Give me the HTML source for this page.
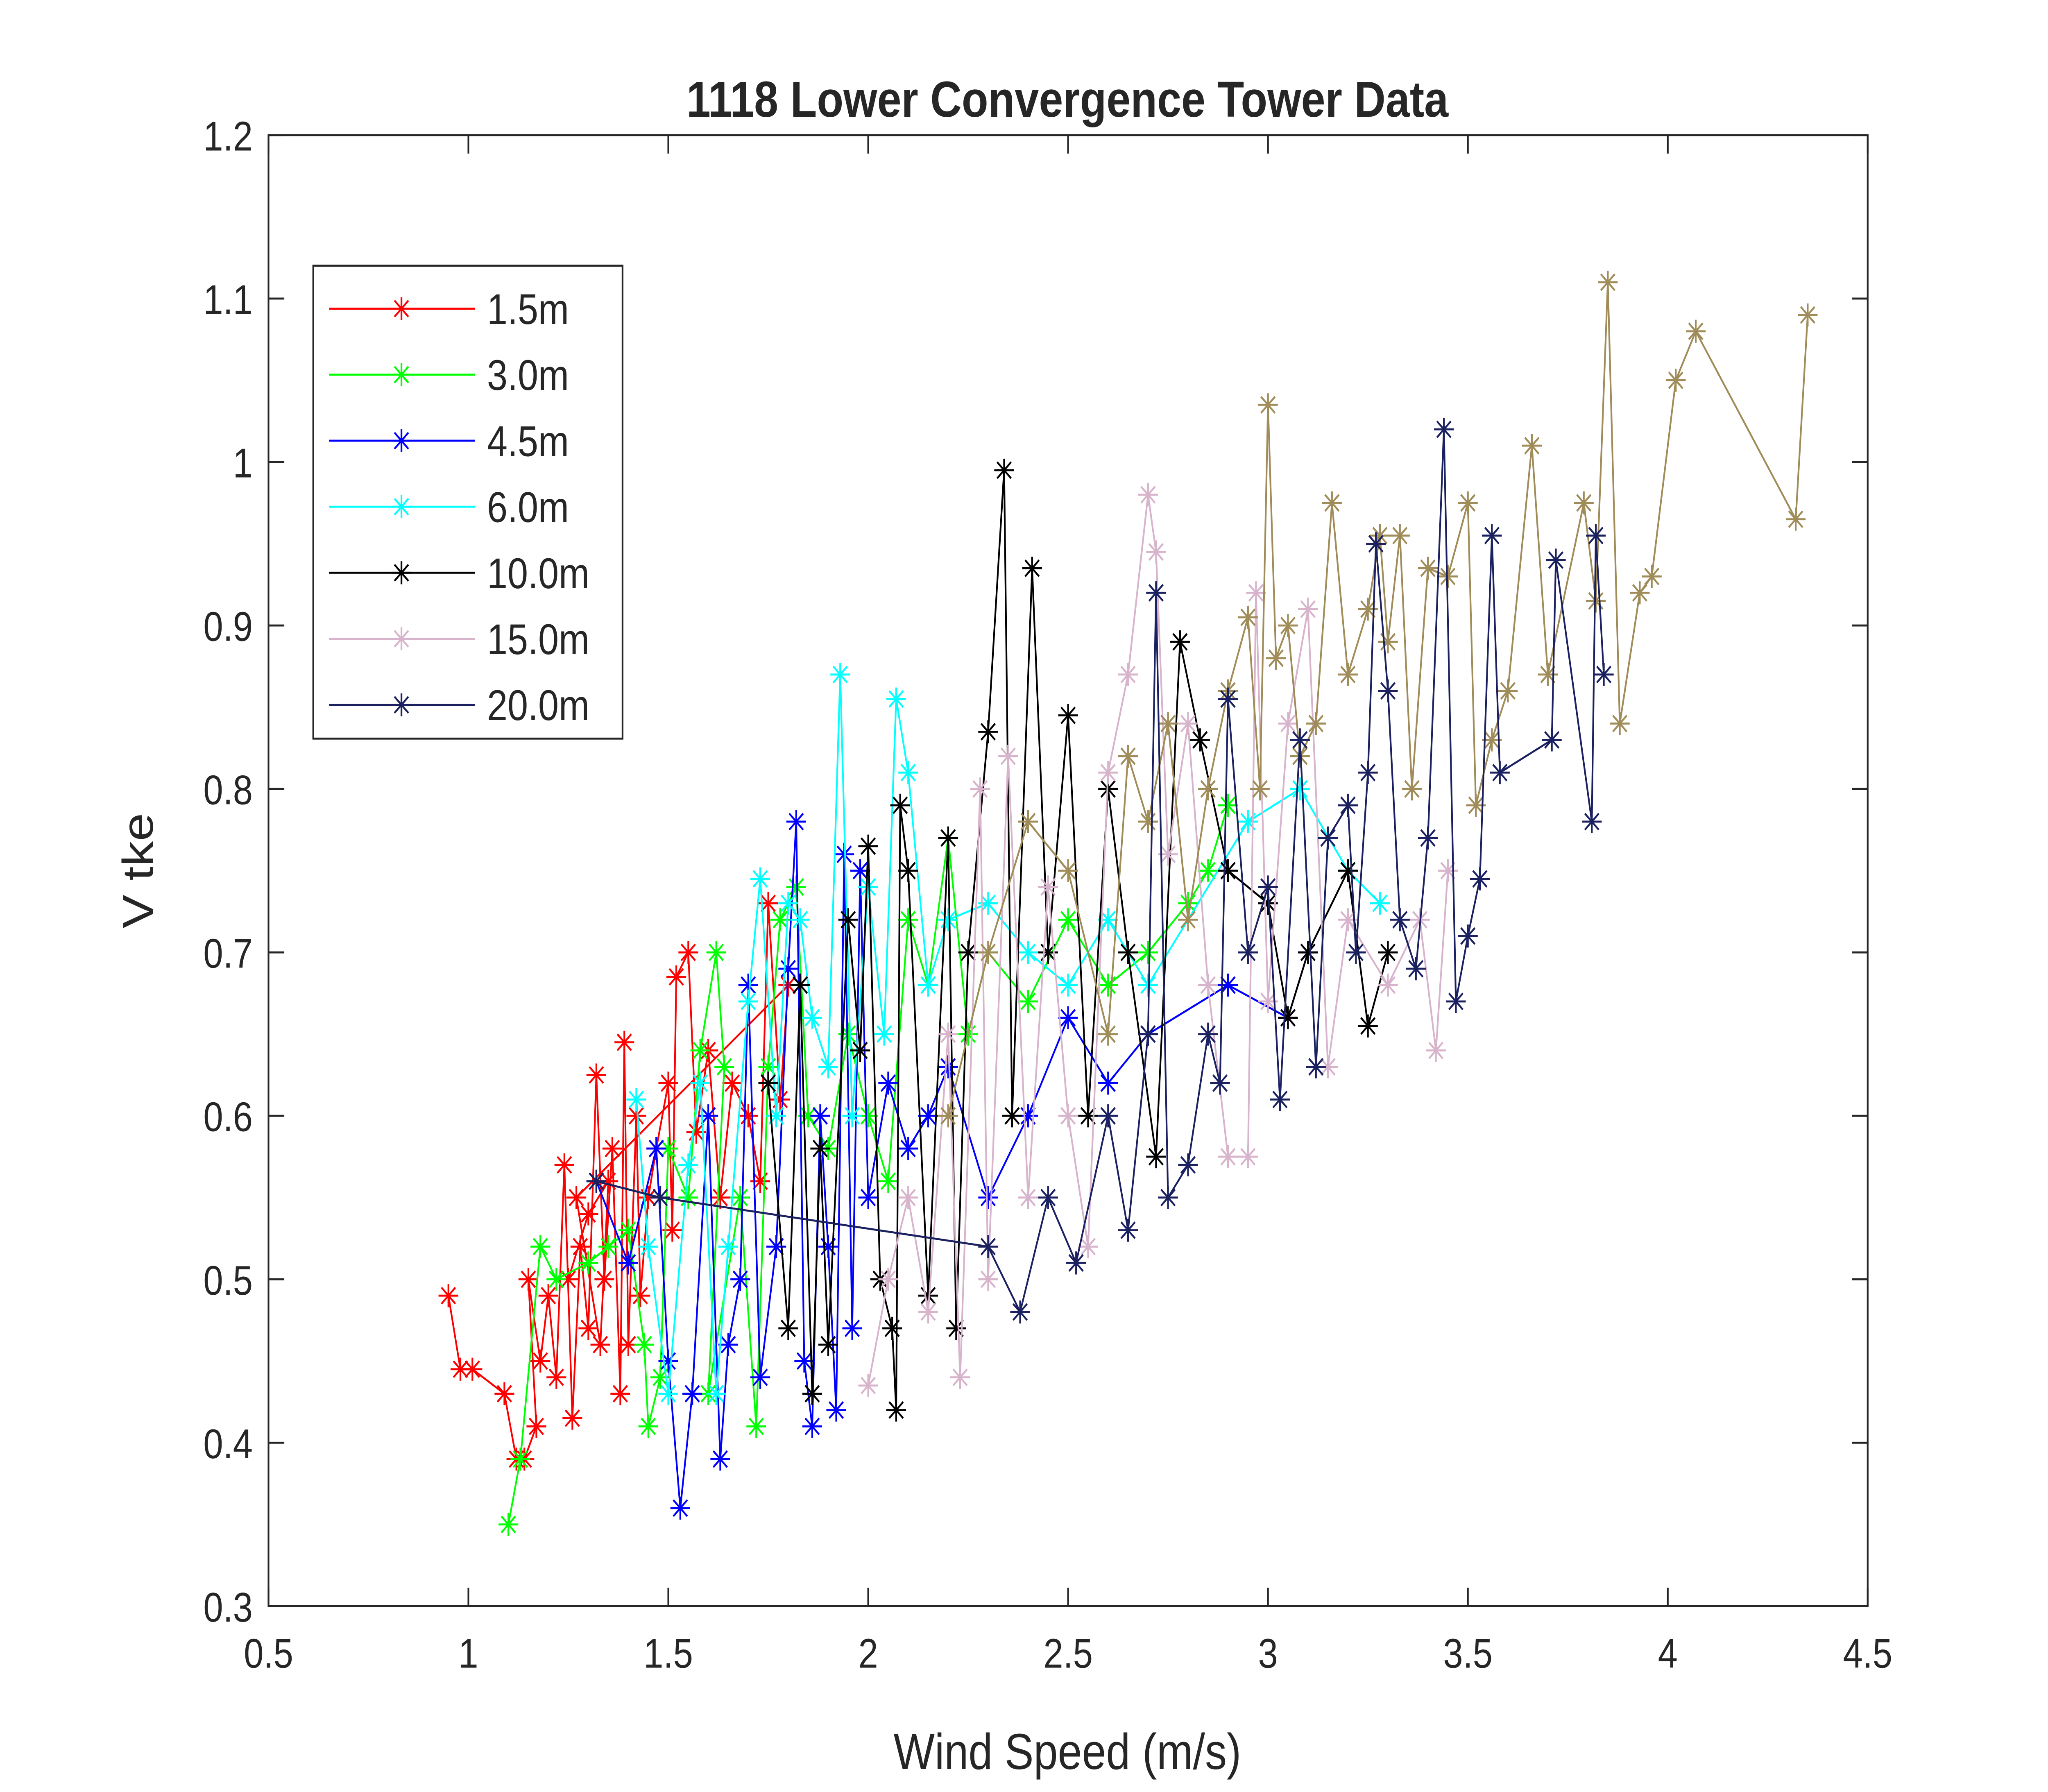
<!DOCTYPE html>
<html><head><meta charset="utf-8"><style>
html,body{margin:0;padding:0;background:#fff;overflow:hidden;width:100%;height:100%}
svg{display:block;position:absolute;left:0;top:0;width:100vw;height:100vh}
text{font-family:"Liberation Sans",Arial,sans-serif;fill:#262626}
</style></head><body>
<svg id="chart" viewBox="0 0 1556 1167" preserveAspectRatio="none" xmlns="http://www.w3.org/2000/svg">
<rect width="1556" height="1167" fill="#fff"/>
<g id="plot"></g>
</svg>
<script>
const xTicks=[0.5,1,1.5,2,2.5,3,3.5,4,4.5];
const xTickLabels=["0.5","1","1.5","2","2.5","3","3.5","4","4.5"];
const yTicks=[0.3,0.4,0.5,0.6,0.7,0.8,0.9,1,1.1,1.2];
const yTickLabels=["0.3","0.4","0.5","0.6","0.7","0.8","0.9","1","1.1","1.2"];
const seriesNames=["1.5m","3.0m","4.5m","6.0m","10.0m","15.0m","tan","20.0m"];
const seriesColors=["#ff0000","#00ff00","#0000ff","#00ffff","#000000","#d8b4cc","#a08c58","#1a2060"];
const s15x=[0.95,0.98,1.01,1.09,1.12,1.14,1.17,1.15,1.18,1.2,1.22,1.24,1.26,1.28,1.3,1.32,1.34,1.36,1.38,1.39,1.4,1.42,1.43,1.45,1.47,1.5,1.51,1.52,1.55,1.57,1.6,1.63,1.66,1.7,1.73,1.75,1.78,1.8,1.27,1.33,1.35,1.3,1.25];
const s15y=[0.49,0.445,0.445,0.43,0.39,0.39,0.41,0.5,0.45,0.49,0.44,0.57,0.415,0.52,0.47,0.625,0.5,0.58,0.43,0.645,0.46,0.6,0.49,0.55,0.58,0.62,0.53,0.685,0.7,0.59,0.64,0.55,0.62,0.6,0.56,0.73,0.61,0.68,0.55,0.46,0.56,0.54,0.5];
const s30x=[1.1,1.13,1.18,1.22,1.3,1.35,1.4,1.44,1.45,1.48,1.5,1.55,1.58,1.62,1.64,1.6,1.68,1.72,1.75,1.78,1.82,1.85,1.9,1.95,2.0,2.05,2.1,2.15,2.2,2.25,2.3,2.4,2.5,2.6,2.7,2.8,2.85,2.9];
const s30y=[0.35,0.39,0.52,0.5,0.51,0.52,0.53,0.46,0.41,0.44,0.58,0.55,0.64,0.7,0.63,0.43,0.55,0.41,0.63,0.72,0.74,0.6,0.58,0.65,0.6,0.56,0.72,0.68,0.77,0.65,0.7,0.67,0.72,0.68,0.7,0.73,0.75,0.79];
const s45x=[1.32,1.4,1.47,1.5,1.53,1.56,1.6,1.63,1.65,1.68,1.7,1.73,1.77,1.8,1.82,1.84,1.86,1.88,1.9,1.92,1.94,1.96,1.98,2.0,2.05,2.1,2.15,2.2,2.3,2.4,2.5,2.6,2.7,2.9,3.05,3.1];
const s45y=[0.56,0.51,0.58,0.45,0.36,0.43,0.6,0.39,0.46,0.5,0.68,0.44,0.52,0.69,0.78,0.45,0.41,0.6,0.52,0.42,0.76,0.47,0.75,0.55,0.62,0.58,0.6,0.63,0.55,0.6,0.66,0.62,0.65,0.68,0.66,0.7];
const s60x=[1.42,1.45,1.5,1.55,1.58,1.62,1.65,1.7,1.73,1.77,1.8,1.83,1.86,1.9,1.93,1.96,2.0,2.04,2.07,2.1,2.15,2.2,2.3,2.4,2.5,2.6,2.7,2.95,3.08,3.2,3.28];
const s60y=[0.61,0.52,0.43,0.57,0.62,0.43,0.52,0.67,0.745,0.6,0.73,0.72,0.66,0.63,0.87,0.6,0.74,0.65,0.855,0.81,0.68,0.72,0.73,0.7,0.68,0.72,0.68,0.78,0.8,0.75,0.73];
const s100x=[1.75,1.8,1.83,1.86,1.88,1.9,1.95,1.98,2.0,2.03,2.06,2.07,2.08,2.1,2.15,2.2,2.22,2.25,2.3,2.34,2.36,2.41,2.45,2.5,2.55,2.6,2.65,2.72,2.78,2.83,2.9,3.0,3.05,3.1,3.2,3.25,3.3];
const s100y=[0.62,0.47,0.68,0.43,0.58,0.46,0.72,0.64,0.765,0.5,0.47,0.42,0.79,0.75,0.49,0.77,0.47,0.7,0.835,0.995,0.6,0.935,0.7,0.845,0.6,0.8,0.7,0.575,0.89,0.83,0.75,0.73,0.66,0.7,0.75,0.655,0.7];
const s150x=[2.0,2.05,2.1,2.15,2.2,2.23,2.28,2.3,2.35,2.4,2.45,2.5,2.55,2.6,2.65,2.7,2.72,2.75,2.8,2.85,2.9,2.95,2.97,3.0,3.05,3.1,3.15,3.2,3.3,3.38,3.42,3.45];
const s150y=[0.435,0.5,0.55,0.48,0.65,0.44,0.8,0.5,0.82,0.55,0.74,0.6,0.52,0.81,0.87,0.98,0.945,0.76,0.84,0.68,0.575,0.575,0.92,0.67,0.84,0.91,0.63,0.72,0.68,0.72,0.64,0.75];
const sTanx=[2.2,2.3,2.4,2.5,2.6,2.65,2.7,2.75,2.8,2.85,2.9,2.95,2.98,3.0,3.02,3.05,3.08,3.12,3.16,3.2,3.25,3.28,3.3,3.33,3.36,3.4,3.45,3.5,3.52,3.56,3.6,3.66,3.7,3.79,3.82,3.85,3.88,3.93,3.96,4.02,4.07,4.32,4.35];
const sTany=[0.6,0.7,0.78,0.75,0.65,0.82,0.78,0.84,0.72,0.8,0.86,0.905,0.8,1.035,0.88,0.9,0.82,0.84,0.975,0.87,0.91,0.955,0.89,0.955,0.8,0.935,0.93,0.975,0.79,0.83,0.86,1.01,0.87,0.975,0.915,1.11,0.84,0.92,0.93,1.05,1.08,0.965,1.09];
const s200x=[1.32,1.48,2.3,2.38,2.45,2.52,2.6,2.65,2.7,2.72,2.75,2.8,2.85,2.88,2.9,2.95,3.0,3.03,3.08,3.12,3.15,3.2,3.22,3.25,3.27,3.3,3.33,3.37,3.4,3.44,3.47,3.5,3.53,3.56,3.58,3.71,3.72,3.81,3.82,3.84];
const s200y=[0.56,0.55,0.52,0.48,0.55,0.51,0.6,0.53,0.65,0.92,0.55,0.57,0.65,0.62,0.855,0.7,0.74,0.61,0.83,0.63,0.77,0.79,0.7,0.81,0.95,0.86,0.72,0.69,0.77,1.02,0.67,0.71,0.745,0.955,0.81,0.83,0.94,0.78,0.955,0.87];
const seriesX=[s15x,s30x,s45x,s60x,s100x,s150x,sTanx,s200x];
const seriesY=[s15y,s30y,s45y,s60y,s100y,s150y,sTany,s200y];

const L=204,R=1419,T=88,B=1046;
const sx=v=>L+(v-0.5)/(4.5-0.5)*(R-L);
const sy=v=>B-(v-0.3)/(1.2-0.3)*(B-T);
const NS="http://www.w3.org/2000/svg";
const g=document.getElementById('plot');
function mk(tag,attrs,parent){const e=document.createElementNS(NS,tag);for(const k in attrs)e.setAttribute(k,attrs[k]);(parent||g).appendChild(e);return e;}
function star(x,y,c,parent){const r=7.5,d=5.3;
 const p=mk('path',{d:`M${x-r},${y}H${x+r}M${x},${y-r}V${y+r}M${x-d},${y-d}L${x+d},${y+d}M${x-d},${y+d}L${x+d},${y-d}`,stroke:c,'stroke-width':1.3,fill:'none'},parent);
 return p;}

const box=mk('rect',{x:L,y:T,width:R-L,height:B-T,fill:'#fff',stroke:'#262626','stroke-width':1.3});



seriesX.forEach((xs,i)=>{
 const sg=mk('g',{});
 
 
 const pts=xs.map((x,j)=>sx(x)+','+sy(seriesY[i][j])).join(' ');
 mk('polyline',{points:pts,fill:'none',stroke:seriesColors[i],'stroke-width':1.3},sg);
 xs.forEach((x,j)=>{const m=star(sx(x),sy(seriesY[i][j]),seriesColors[i],sg);
  
  });
});

xTicks.forEach((v,i)=>{const x=sx(v);
 mk('line',{x1:x,y1:B,x2:x,y2:B-12,stroke:'#262626','stroke-width':1.3});
 mk('line',{x1:x,y1:T,x2:x,y2:T+12,stroke:'#262626','stroke-width':1.3});
 const t=mk('text',{x:x,y:B+40,'font-size':27,'text-anchor':'middle'});t.textContent=xTickLabels[i];
 
 
});
yTicks.forEach((v,i)=>{const y=sy(v);
 mk('line',{x1:L,y1:y,x2:L+12,y2:y,stroke:'#262626','stroke-width':1.3});
 mk('line',{x1:R,y1:y,x2:R-12,y2:y,stroke:'#262626','stroke-width':1.3});
 const t=mk('text',{x:L-12,y:y+10,'font-size':27,'text-anchor':'end'});t.textContent=yTickLabels[i];
 
 
});

const ti=mk('text',{x:811,y:76,'font-size':33,'font-weight':'bold','text-anchor':'middle',fill:'#000'});ti.textContent='1118 Lower Convergence Tower Data';


const xl=mk('text',{x:811,y:1152,'font-size':33,'text-anchor':'middle'});xl.textContent='Wind Speed (m/s)';


const yl=mk('text',{x:0,y:0,'font-size':33,'text-anchor':'middle',transform:'translate(116,567) rotate(-90)'});yl.textContent='V tke';



const lg=mk('g',{});


mk('rect',{x:238,y:173,width:235,height:308,fill:'#fff',stroke:'#262626','stroke-width':1.3},lg);
[0,1,2,3,4,5,7].forEach((si,k)=>{const y=201+k*43;
 const e=mk('g',{},lg);
 
 
 mk('line',{x1:250,y1:y,x2:361,y2:y,stroke:seriesColors[si],'stroke-width':1.3},e);
 star(305,y,seriesColors[si],e);
 const t=mk('text',{x:370,y:y+10,'font-size':28,fill:'#000'},e);t.textContent=seriesNames[si];
});
</script>
</body></html>
